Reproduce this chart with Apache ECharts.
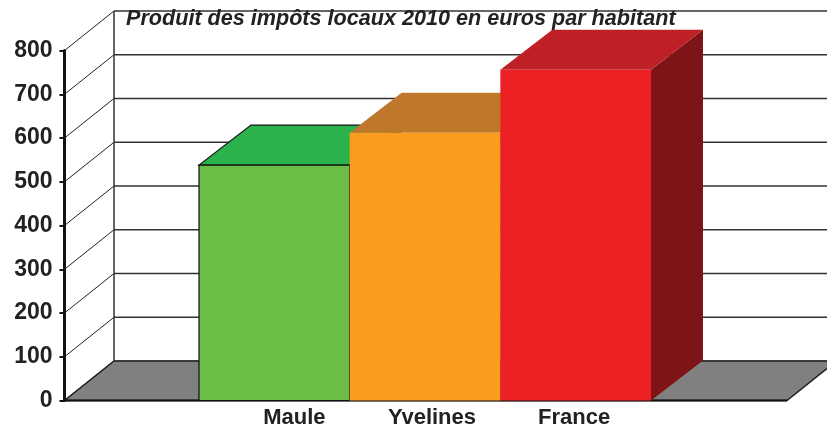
<!DOCTYPE html>
<html>
<head>
<meta charset="utf-8">
<style>
	html, body { margin: 0; padding: 0; background: #fff; }
	#chart { width: 827px; height: 424px; }
</style>
</head>
<body>
<div id="chart"></div>
<script src="https://cdn.jsdelivr.net/npm/echarts@6/dist/echarts.min.js"></script>
<script>
const titleText = "Produit des impôts locaux 2010 en euros par habitant";
const categories = ["Maule", "Yvelines", "France"];
const taxValues = [538, 612, 756];
const yTicks = [0, 100, 200, 300, 400, 500, 600, 700, 800];

const frontColors = ["#6bbe45", "#fa9d1e", "#ed2024"];
const topColors = ["#2bb24c", "#bf772b", "#be2025"];
const sideColors = ["#1f7a35", "#8a5518", "#7e1416"];
const edgeColors = ["#111", null, null];

const font = "Liberation Sans, Arial, sans-serif";
const axisX = 64.5; // front edge of the floor, left
const floorEndX = 787; // front edge of the floor, right
const wallDx = 49.5, wallDy = -39.5; // depth of the walls
const barDx = 52, barDy = -40; // depth of the bars

let myCharts = echarts.init(document.getElementById("chart"), null, { renderer: "canvas" });

// floor
function renderFloor(params, api) {
	const y = api.coord([0, 0])[1];
	return {
		type: "polygon",
		shape: {
			points: [
				[axisX, y],
				[floorEndX, y],
				[floorEndX + wallDx, y + wallDy],
				[axisX + wallDx, y + wallDy],
			],
		},
		style: { fill: "#808080", stroke: "#222", lineWidth: 1.5 },
	};
}

// lines on the left and back walls
function renderWall(params, api) {
	const y = api.coord([0, api.value(1)])[1];
	return {
		type: "group",
		children: [
			{
				type: "line",
				shape: { x1: axisX, y1: y, x2: axisX + wallDx, y2: y + wallDy },
				style: { stroke: "#222", lineWidth: 1 },
			},
			{
				type: "line",
				shape: { x1: axisX + wallDx, y1: y + wallDy, x2: 840, y2: y + wallDy },
				style: { stroke: "#333", lineWidth: 1.5 },
			},
		],
	};
}

// back corner and front edge
function renderFrame(params, api) {
	const y0 = api.coord([0, 0])[1];
	const yTop = api.coord([0, yTicks[yTicks.length - 1]])[1];
	return {
		type: "group",
		children: [
			{
				type: "line",
				shape: { x1: axisX + wallDx, y1: y0 + wallDy, x2: axisX + wallDx, y2: yTop + wallDy },
				style: { stroke: "#333", lineWidth: 1.5 },
			},
			{
				type: "line",
				shape: { x1: axisX, y1: y0, x2: floorEndX, y2: y0 },
				style: { stroke: "#111", lineWidth: 2 },
			},
		],
	};
}

// 3D bar: side, top, front
function renderBar(params, api) {
	const i = params.dataIndex;
	const top = api.coord([i, api.value(1)]);
	const bottom = api.coord([i, 0]);
	const w = api.size([1, 0])[0];
	const l = top[0] - w / 2;
	const r = top[0] + w / 2;
	const edge = edgeColors[i];
	const lw = edge ? 1.2 : 0;
	return {
		type: "group",
		children: [
			{
				type: "polygon",
				shape: {
					points: [
						[r, top[1]],
						[r + barDx, top[1] + barDy],
						[r + barDx, bottom[1] + barDy],
						[r, bottom[1]],
					],
				},
				style: { fill: sideColors[i] },
			},
			{
				type: "polygon",
				shape: {
					points: [
						[l, top[1]],
						[r, top[1]],
						[r + barDx, top[1] + barDy],
						[l + barDx, top[1] + barDy],
					],
				},
				style: { fill: topColors[i], stroke: edge, lineWidth: lw },
			},
			{
				type: "rect",
				shape: { x: l, y: top[1], width: w, height: bottom[1] - top[1] },
				style: { fill: frontColors[i], stroke: edge, lineWidth: lw },
			},
		],
	};
}

let option = {
	animation: false,
	backgroundColor: "#fff",
	title: {
		text: titleText,
		left: 126,
		top: 8,
		padding: 0,
		textStyle: {
			color: "#222",
			fontFamily: font,
			fontStyle: "italic",
			fontWeight: "bold",
			fontSize: 21.6,
		},
	},
	grid: { left: 199, right: 176, top: 50.5, bottom: 23.5, outerBoundsMode: "none" },
	xAxis: {
		type: "category",
		data: [
			{ value: categories[0], textStyle: { padding: [0, 0, 0, 40] } },
			{ value: categories[1], textStyle: { padding: [0, 0, 0, 14] } },
			{ value: categories[2], textStyle: { padding: [0, 3, 0, 0] } },
		],
		axisLine: { show: false },
		axisTick: { show: false },
		axisLabel: {
			margin: 6,
			color: "#222",
			fontFamily: font,
			fontWeight: "bold",
			fontSize: 22,
		},
	},
	yAxis: {
		type: "value",
		min: 0,
		max: 800,
		interval: 100,
		offset: 134.5,
		axisLine: { show: true, lineStyle: { color: "#111", width: 3 } },
		axisTick: { show: true, length: 5, lineStyle: { color: "#111", width: 2 } },
		axisLabel: {
			margin: 12,
			color: "#222",
			fontFamily: font,
			fontWeight: "bold",
			fontSize: 23,
		},
		splitLine: { show: false },
	},
	series: [
		{
			type: "custom",
			coordinateSystem: "cartesian2d",
			renderItem: renderFloor,
			data: [[0, 0]],
			silent: true,
			z: 1,
		},
		{
			type: "custom",
			coordinateSystem: "cartesian2d",
			renderItem: renderWall,
			data: yTicks.map((v) => [0, v]),
			silent: true,
			z: 2,
		},
		{
			type: "custom",
			coordinateSystem: "cartesian2d",
			renderItem: renderFrame,
			data: [[0, 0]],
			silent: true,
			z: 3,
		},
		{
			type: "custom",
			coordinateSystem: "cartesian2d",
			renderItem: renderBar,
			data: taxValues.map((v, i) => [i, v]),
			encode: { x: 0, y: 1 },
			z: 4,
		},
	],
};
myCharts.setOption(option);
</script>
</body>
</html>
